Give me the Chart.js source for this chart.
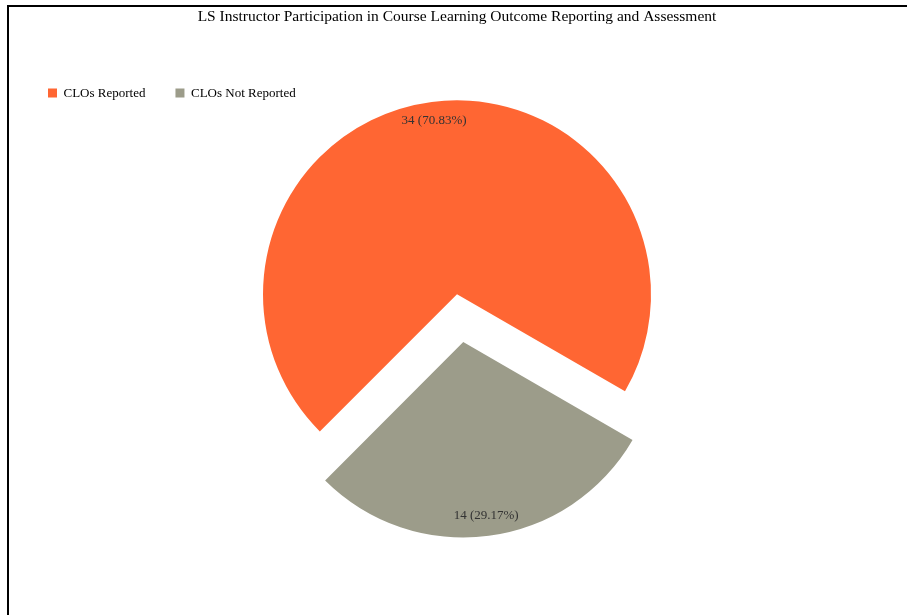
<!DOCTYPE html>
<html lang="en">
    <head>
        <meta charset="utf-8">
        <script src="https://cdn.jsdelivr.net/npm/chart.js@4.4.1/dist/chart.umd.min.js"></script>
        <style>
            html, body { margin: 0; padding: 0; background: #fff; overflow: hidden; }
            .frame {
                position: absolute; left: 7px; top: 5px; right: 0; bottom: 0;
                border-left: 2px solid #000; border-top: 2px solid #000;
            }
            .chart_box { position: absolute; left: 0; top: 0; width: 907px; height: 615px; }
        </style>
    </head>
    <body>
    <div class="frame"></div>
    <div class="chart_box"><canvas id="cloChart" width="907" height="615"></canvas></div>

    <script>
        // data
        var categories = ['CLOs Reported', 'CLOs Not Reported'];
        var counts = [34, 14];
        var chartTitle = 'LS Instructor Participation in Course Learning Outcome Reporting and Assessment';

        var total = counts.reduce(function(a, b){ return a + b; }, 0);

        // draws "n (p%)" near the outer edge of each slice
        var sliceLabels = {
            id: 'sliceLabels',
            afterDatasetsDraw: function(chart){
                var ctx = chart.ctx;
                var meta = chart.getDatasetMeta(0);
                ctx.save();
                ctx.font = '13px "Liberation Serif", "Times New Roman", serif';
                ctx.fillStyle = '#333';
                ctx.textAlign = 'center';
                ctx.textBaseline = 'middle';
                meta.data.forEach(function(arc, i){
                    var p = arc.getProps(['x', 'y', 'startAngle', 'endAngle', 'outerRadius'], true);
                    var mid = (p.startAngle + p.endAngle) / 2;
                    var shift = (arc.options.offset || 0) / 4;
                    var r = shift + p.outerRadius * 0.905;
                    var x = p.x + Math.cos(mid) * r;
                    var y = p.y + Math.sin(mid) * r;
                    var v = counts[i];
                    ctx.fillText(v + ' (' + (v / total * 100).toFixed(2) + '%)', x, y);
                });
                ctx.restore();
            }
        };

        const ctx = document.getElementById('cloChart').getContext('2d');
        const cloChart = new Chart(ctx, {
            type: 'pie',
            data: {
                labels: categories,
                datasets: [{
                    data: counts,
                    backgroundColor: ['#FF6633', '#9C9C8A'],
                    borderWidth: 0,
                    offset: [0, 192]
                }]
            },
            options: {
                responsive: false,
                animation: false,
                events: [],
                rotation: 225,
                radius: 194,
                layout: {
                    padding: { left: 18, right: 11, top: 0, bottom: 136 }
                },
                plugins: {
                    title: {
                        display: true,
                        text: chartTitle,
                        color: '#000',
                        font: { family: '"Liberation Serif", "Times New Roman", serif', size: 15.5, weight: 'normal' },
                        padding: { top: 8, bottom: 30 }
                    },
                    legend: {
                        position: 'top',
                        align: 'start',
                        labels: {
                            boxWidth: 9,
                            boxHeight: 9,
                            padding: 30,
                            color: '#000',
                            font: { family: '"Liberation Serif", "Times New Roman", serif', size: 13 }
                        }
                    },
                    tooltip: { enabled: false }
                }
            },
            plugins: [sliceLabels]
        });
    </script>
    </body>
</html>
